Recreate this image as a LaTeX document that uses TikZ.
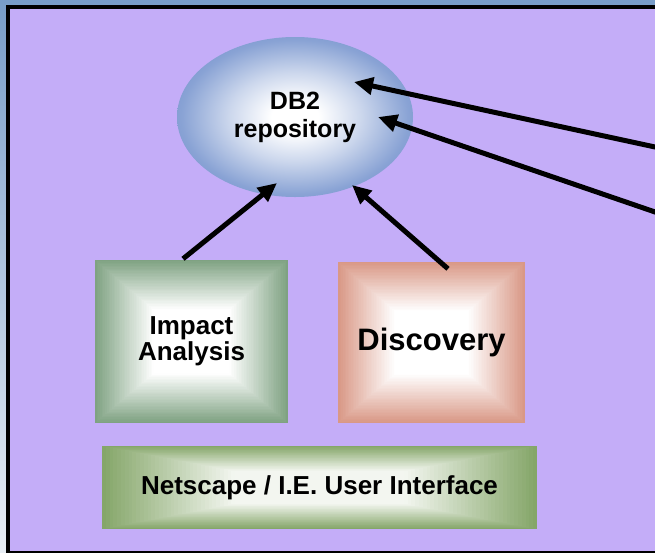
\documentclass[tikz,border=0pt]{standalone}
\usepackage{fontspec}
\setmainfont{Liberation Sans}
\usetikzlibrary{arrows.meta,calc,shapes.geometric}
\definecolor{bgtop}{HTML}{789DC8}
\definecolor{bgbot}{HTML}{E8EEF5}
\definecolor{purp}{HTML}{C4ADF8}
\definecolor{dbblue}{HTML}{6C8CCA}
\colorlet{dbA}{dbblue!35!white}
\colorlet{dbB}{dbblue!80!white}
\definecolor{impgreen}{HTML}{7FA282}
\definecolor{discred}{HTML}{D99886}
\definecolor{netgreen}{HTML}{85A669}
\colorlet{netlight}{netgreen!10!white}
\pgfdeclareradialshading{dbshade}{\pgfpoint{0bp}{0bp}}{color(0bp)=(white); color(5bp)=(white); color(14bp)=(dbA); color(24bp)=(dbB); color(32bp)=(dbblue); color(50bp)=(dbblue)}
\tikzset{
  rectgrad/.style 2 args={path picture={
    \foreach \rgI in {0,...,40}{
      \pgfmathsetmacro\rgS{1-\rgI*0.0175}
      \pgfmathsetmacro\rgP{max(0,min(100,100*(\rgS-0.4)/0.6))}
      \fill[#1!\rgP!#2] ($(path picture bounding box.center)!\rgS!(path picture bounding box.south west)$) rectangle ($(path picture bounding box.center)!\rgS!(path picture bounding box.north east)$);
    }}},
  box/.style={rectangle, inner sep=0pt, align=center, font=\bfseries\fontsize{26}{26}\selectfont},
  arr/.style={line width=5pt, -{Triangle[length=19pt,width=17pt]}},
}
\begin{document}
\begin{tikzpicture}[x=1pt,y=-1pt]
\useasboundingbox (0,0) rectangle (655,552);
\clip (0,0) rectangle (655,552);
\shade[top color=bgtop,bottom color=bgbot] (0,0) rectangle (655,552);
\draw[line width=4pt,fill=purp] (8,7) rectangle (700,552.5);

\node[ellipse, minimum width=236pt, minimum height=160pt, inner sep=0pt, shade, shading=dbshade, align=center, font=\bfseries\fontsize{25}{28}\selectfont] (db) at (295,117) {DB2\\repository};

\node[box, minimum width=193pt, minimum height=163pt, rectgrad={impgreen}{white}] (imp) at (191.5,341.5) {Impact\\Analysis};
\node[box, minimum width=187pt, minimum height=161pt, rectgrad={discred}{white}, font=\bfseries\fontsize{31}{31}\selectfont] (disc) at (431.5,342.5) {Discovery};
\node[box, minimum width=435pt, minimum height=83pt, rectgrad={netgreen}{netlight}] (net) at (319.5,487.5) {Netscape / I.E. User Interface};

\coordinate (t1) at ($(db.center)+(59,-35)$);
\coordinate (t2) at ($(db.center)+(83,0)$);
\coordinate (t3) at ($(db.center)+(-18,66)$);
\coordinate (t4) at ($(db.center)+(57,68)$);
\coordinate (r1) at (700,156.7);
\coordinate (r2) at (700,227.4);
\draw[arr] (r1) -- (t1);
\draw[arr] (r2) -- (t2);
\draw[arr] ($(imp.north)+(-8.5,-1)$) -- (t3);
\draw[arr] ($(disc.north)+(16.5,7)$) -- (t4);
\end{tikzpicture}
\end{document}
